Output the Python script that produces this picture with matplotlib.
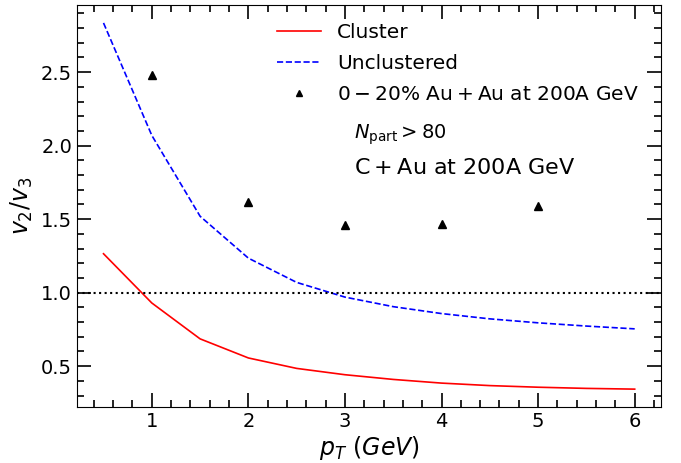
import numpy as np
import matplotlib.pyplot as plt
from matplotlib.ticker import MultipleLocator

# pT grid for the model curves
pt = [0.5, 1.0, 1.5, 2.0, 2.5, 3.0, 3.5, 4.0, 4.5, 5.0, 5.5, 6.0]
cluster = [1.265, 0.93, 0.686, 0.556, 0.485, 0.442, 0.41, 0.385, 0.368, 0.357, 0.349, 0.344]
unclustered = [2.835, 2.07, 1.52, 1.235, 1.07, 0.97, 0.905, 0.858, 0.822, 0.795, 0.773, 0.754]

# Au+Au data points
pt_data = [1, 2, 3, 4, 5]
auau = [2.48, 1.615, 1.462, 1.468, 1.59]

fig, ax = plt.subplots(figsize=(6.81, 4.63), dpi=100)

ax.plot(pt, cluster, color='red', lw=1.2, label='Cluster')
ax.plot(pt, unclustered, color='blue', lw=1.2, ls='--', label='Unclustered')
ax.plot(pt_data, auau, ls='none', marker='^', color='black', ms=6,
        label=r'$0-20\%\ \mathrm{Au}+\mathrm{Au}$ at 200A GeV')
ax.axhline(1.0, color='black', ls=':', lw=1.5)

ax.set_xlabel(r'$p_T\ (GeV)$', fontsize=17, labelpad=2)
ax.set_ylabel(r'$v_2/v_3$', fontsize=17)

ax.xaxis.set_minor_locator(MultipleLocator(0.2))
ax.yaxis.set_minor_locator(MultipleLocator(0.1))
ax.tick_params(which='both', direction='in', top=True, right=True, labelsize=14)
ax.tick_params(which='major', length=10, width=1.2)
ax.tick_params(which='minor', length=5, width=1.2)

ax.legend(loc='upper left', bbox_to_anchor=(0.318, 0.99), frameon=False,
          fontsize=14.5, handlelength=2.2, markerscale=0.8, borderaxespad=0.3,
          labelspacing=0.6)
ax.text(0.475, 0.667, r'$N_{\rm part} > 80$', transform=ax.transAxes, fontsize=14)
ax.text(0.475, 0.58, r'$\mathrm{C}+\mathrm{Au}$ at 200A GeV', transform=ax.transAxes, fontsize=16)

plt.subplots_adjust(left=0.113, right=0.971, top=0.99, bottom=0.12)
plt.savefig('out.png', dpi=100)
